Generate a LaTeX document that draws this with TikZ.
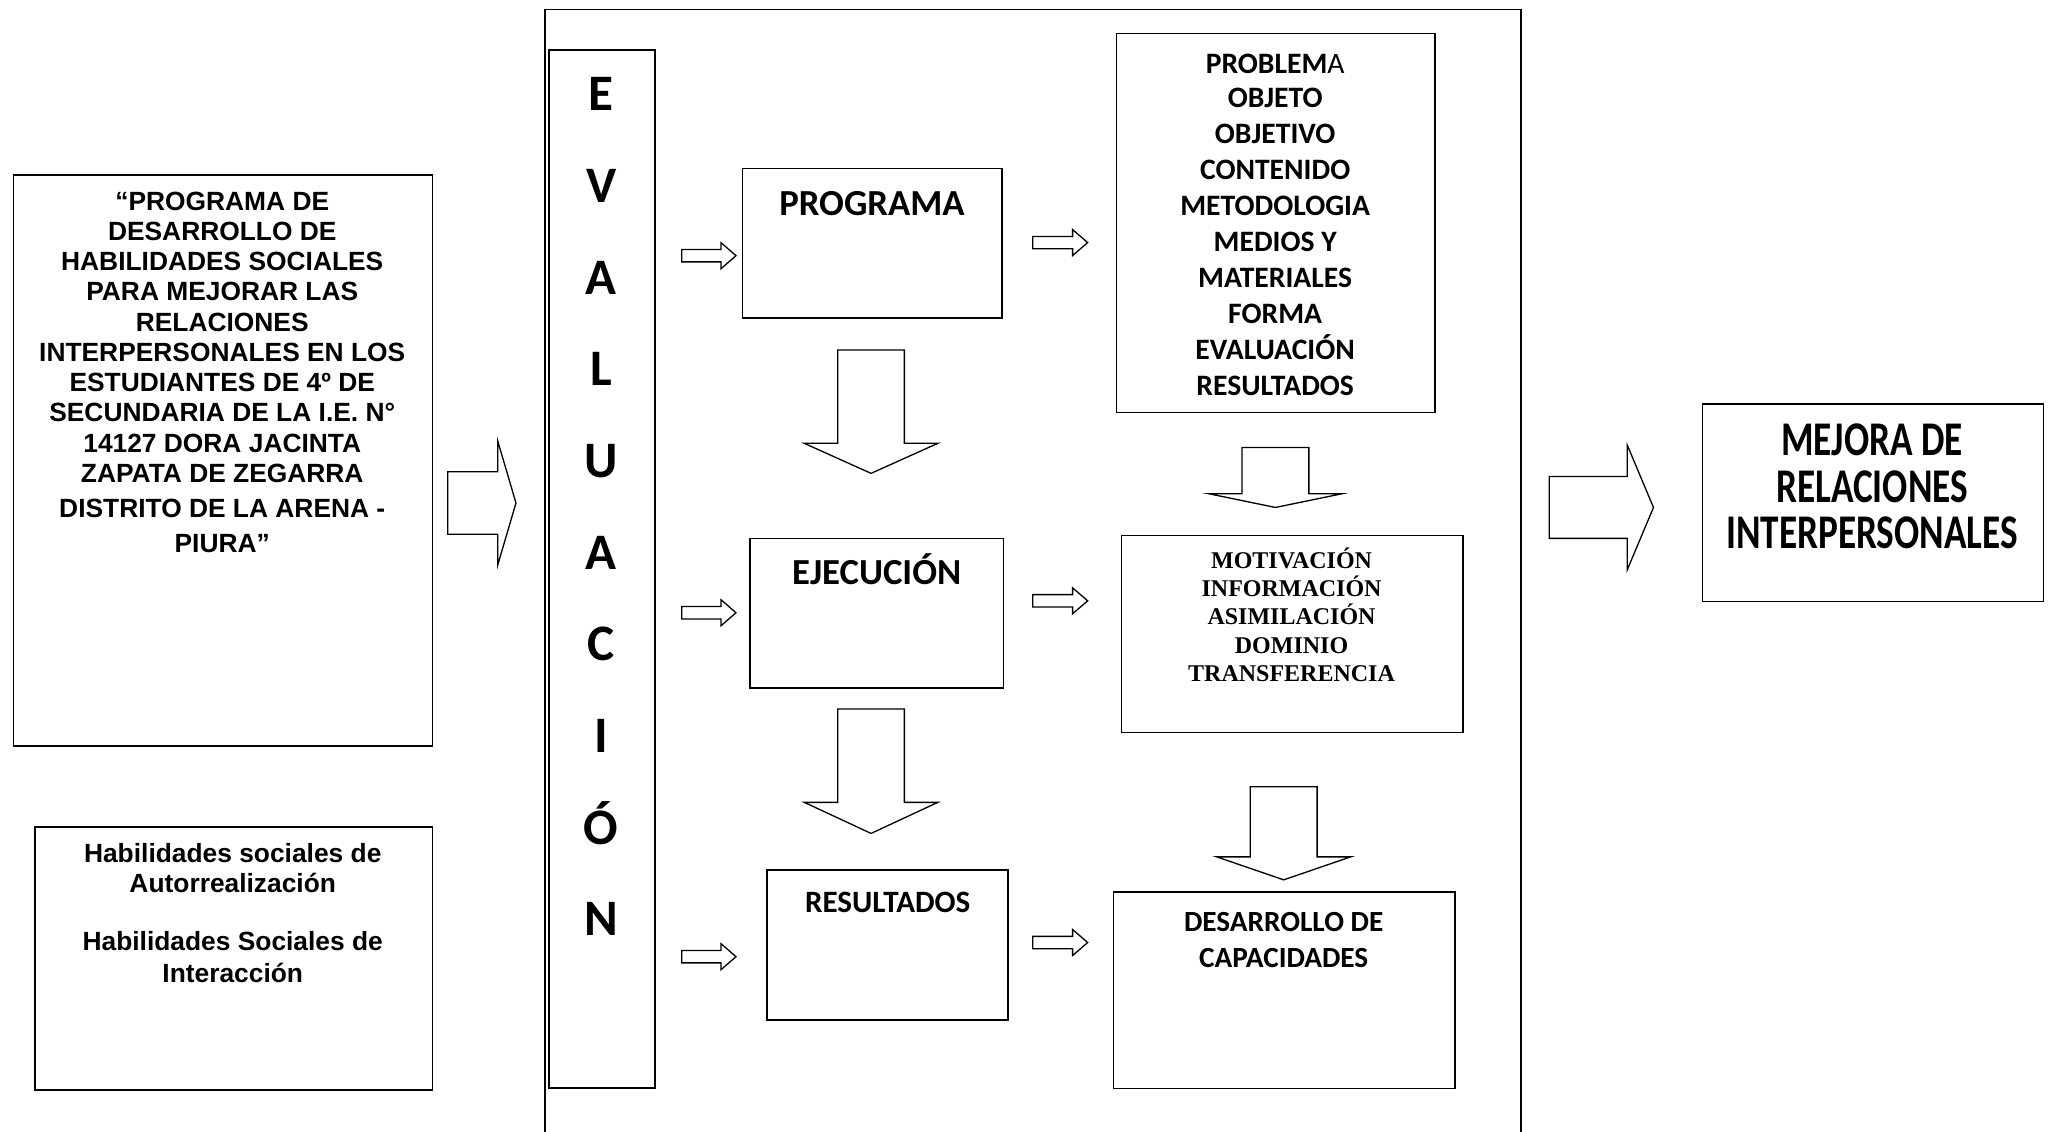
\documentclass[tikz,border=0pt]{standalone}
\usepackage{fontspec}
\setmainfont{Liberation Sans}
\newfontfamily\calib{Carlito}
\newfontfamily\tnr{Liberation Serif}
\newcommand{\RBlock}[6]{% tailx, headx, tipx, cy, shafthalf, headhalf
  \draw[blk] (#1,#4-#5) -- (#2,#4-#5) -- (#2,#4-#6) -- (#3,#4) -- (#2,#4+#6) -- (#2,#4+#5) -- (#1,#4+#5) -- cycle;}
\newcommand{\DBlock}[6]{% cx, top, base, tip, shafthalf, headhalf
  \draw[blk] (#1-#5,#2) -- (#1+#5,#2) -- (#1+#5,#3) -- (#1+#6,#3) -- (#1,#4) -- (#1-#6,#3) -- (#1-#5,#3) -- cycle;}
\begin{document}
\begin{tikzpicture}[x=1pt,y=-1pt,
  box/.style={draw, line width=1.2pt, inner sep=0pt, anchor=north west},
  frameline/.style={draw, line width=1.1pt},
  blk/.style={draw, line width=1pt, fill=white},
  txt/.style={inner sep=0pt, anchor=base},
  arialtxt/.style={txt, font=\bfseries\fontsize{20.1}{24}\selectfont},
  calibtxt/.style={txt, font=\calib\bfseries\fontsize{#1}{#1}\selectfont},
  tnrtxt/.style={txt, font=\tnr\bfseries\fontsize{18.3}{20}\selectfont}
]
\useasboundingbox[fill=white] (0,0) rectangle (1568,863);

% boxes
\node[box, minimum width=319.5pt, minimum height=435.5pt] (obj) at (9.7,132.7) {};
\node[box, minimum width=303.3pt, minimum height=200.5pt] (hab) at (25.9,630) {};
\draw[frameline] (415.7,863) -- (415.7,7.1) -- (1159.8,7.1) -- (1159.8,863);
\node[box, minimum width=80.8pt, minimum height=791.6pt] (eval) at (418.2,37.4) {};
\node[box, minimum width=197.8pt, minimum height=114.1pt] (prog) at (565.6,127.9) {};
\node[box, minimum width=193.2pt, minimum height=114.2pt] (ejec) at (571.5,410) {};
\node[box, minimum width=184pt, minimum height=114.2pt] (res) at (584.2,663) {};
\node[box, minimum width=243pt, minimum height=289pt] (prob) at (850.9,25.1) {};
\node[box, minimum width=260.6pt, minimum height=150.1pt] (moti) at (854.7,407.9) {};
\node[box, minimum width=260.4pt, minimum height=149.9pt] (desa) at (848.6,679.6) {};
\node[box, minimum width=260pt, minimum height=150.5pt] (mejo) at (1297.8,307.6) {};

% block arrows
\RBlock{341.4}{379.6}{393.5}{383.6}{23.8}{47.3}
\RBlock{1181.5}{1241}{1261}{387}{23.6}{47.6}
\RBlock{519.9}{549.9}{561.3}{195}{4.7}{9.9}
\RBlock{519.9}{549.9}{561.3}{467.3}{4.7}{9.9}
\RBlock{519.9}{549.9}{561.3}{729.6}{4.7}{9.9}
\RBlock{787.6}{818}{829.5}{185}{4.7}{9.9}
\RBlock{787.6}{818}{829.5}{458.2}{4.7}{9.9}
\RBlock{787.6}{818}{829.5}{718.8}{4.7}{9.9}
\DBlock{664.3}{266.9}{338.1}{361}{25.4}{50.9}
\DBlock{664.3}{540.7}{611.9}{635.6}{25.4}{50.9}
\DBlock{972.7}{341.3}{376.5}{387}{25.5}{51}
\DBlock{979}{600}{653.5}{671}{25.5}{51}

% texts
\foreach \t/\y [count=\i] in {“PROGRAMA DE/160.2, DESARROLLO DE/183.2, HABILIDADES SOCIALES/206.3,
  PARA MEJORAR LAS/229.4, RELACIONES/252.5, INTERPERSONALES EN LOS/275.6,
  ESTUDIANTES DE 4º DE/298.7, SECUNDARIA DE LA I.E. N°/321.8, 14127 DORA JACINTA/344.9,
  ZAPATA DE ZEGARRA/368.3, DISTRITO DE LA ARENA -/395.0, PIURA”/421.0}
  \node[arialtxt] (objt\i) at (169.5,\y) {\t};

\foreach \t/\y [count=\i] in {Habilidades sociales de/657.4, Autorrealización/681.0,
  Habilidades Sociales de/725.2, Interacción/749.0}
  \node[arialtxt] (habt\i) at (177.5,\y) {\t};

\foreach \t [count=\i from 0] in {E,V,A,L,U,A,C,I,Ó,N}
  \node[calibtxt=39] (evl\i) at (458.5,84.5+69.9*\i) {\t};

\node[calibtxt=28] (progt) at (665,164) {PROGRAMA};
\node[calibtxt=28] (eject) at (668.6,445.4) {EJECUCIÓN};
\node[calibtxt=23.7] (rest) at (677,695.8) {RESULTADOS};

\foreach \t/\y [count=\i] in {PROBLEM\textmd{A}/55.8, OBJETO/81.9, OBJETIVO/109.3, CONTENIDO/136.8,
  METODOLOGIA/164.3, MEDIOS Y/191.8, MATERIALES/219.3, FORMA/246.8, EVALUACIÓN/274.3, RESULTADOS/301.6}
  \node[calibtxt=22.6] (probt\i) at (972.5,\y) {\t};

\foreach \t/\y [count=\i] in {MOTIVACIÓN/433.8, INFORMACIÓN/455.2, ASIMILACIÓN/476.6,
  DOMINIO/498.0, TRANSFERENCIA/519.4}
  \node[tnrtxt] (motit\i) at (985,\y) {\t};

\foreach \t/\y [count=\i] in {DESARROLLO DE/710.3, CAPACIDADES/737.7}
  \node[calibtxt=22.3] (desat\i) at (979,\y) {\t};

\foreach \t/\y [count=\i] in {MEJORA DE/347.5, RELACIONES/383.0, INTERPERSONALES/418.5}
  \node[calibtxt=28.4] (mejot\i) at (1427.7,\y) {\scalebox{1}[1.3]{\t}};
\end{tikzpicture}
\end{document}
